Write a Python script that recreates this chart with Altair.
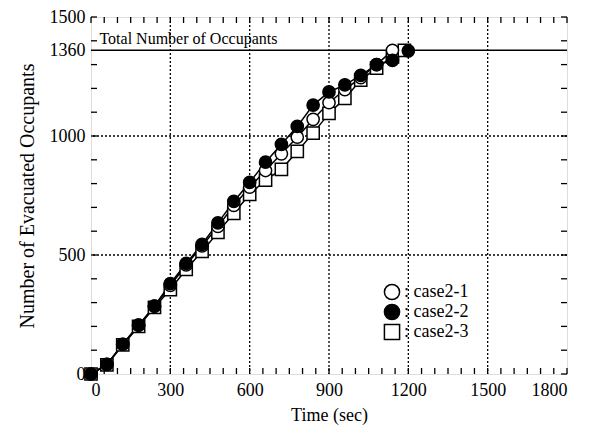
import altair as alt
import pandas as pd

# ---- data ----
series_names = ["case2-1", "case2-2", "case2-3"]

t_case1 = [0, 60, 120, 180, 240, 300, 360, 420, 480, 540, 600, 660, 720, 780, 840, 900, 960, 1020, 1080, 1140]
v_case1 = [0, 40, 125, 205, 285, 372, 458, 538, 620, 708, 785, 855, 925, 995, 1070, 1140, 1195, 1245, 1300, 1360]

t_case2 = [0, 60, 120, 180, 240, 300, 360, 420, 480, 540, 600, 660, 720, 780, 840, 900, 960, 1020, 1080, 1140, 1200]
v_case2 = [0, 40, 125, 205, 285, 380, 465, 545, 635, 725, 805, 890, 965, 1040, 1130, 1185, 1215, 1255, 1300, 1318, 1358]

t_case3 = [0, 60, 120, 180, 240, 300, 360, 420, 480, 540, 600, 660, 720, 780, 840, 900, 960, 1020, 1080, 1140, 1185]
v_case3 = [0, 38, 122, 200, 280, 355, 440, 515, 595, 675, 755, 815, 860, 935, 1012, 1095, 1158, 1235, 1285, 1332, 1360]

x_ticks = [0, 300, 600, 900, 1200, 1500, 1800]
y_ticks = [0, 500, 1000, 1360, 1500]
x_grid = [300, 600, 900, 1200, 1500]
y_grid = [500, 1000]
x_minor = list(range(0, 1801, 50))
y_minor = list(range(0, 1501, 100))
total_value = [1360]
total_label = ["Total Number of Occupants"]
total_label_t = [32]

FONT = "Liberation Serif"

rows = []
for name, ts, vs in [("case2-3", t_case3, v_case3), ("case2-1", t_case1, v_case1), ("case2-2", t_case2, v_case2)]:
    for t, v in zip(ts, vs):
        rows.append({"series": name, "t": t, "v": v})
df = pd.DataFrame(rows)

xs = alt.Scale(domain=[0, 1800], nice=False, zero=False)
ys = alt.Scale(domain=[0, 1500], nice=False, zero=False)

W, H = 476, 357

base_x_axis = alt.Axis(values=x_ticks, format="d", grid=False, domain=False, ticks=False,
                       labelFont=FONT, labelFontSize=18, labelPadding=7, labelColor="black",
                       title="Time (sec)", titleFont=FONT, titleFontSize=18, titleFontWeight="normal",
                       titlePadding=7, titleColor="black")
base_y_axis = alt.Axis(values=y_ticks, format="d", grid=False, domain=False, ticks=False,
                       labelFont=FONT, labelFontSize=18, labelPadding=6, labelColor="black",
                       title="Number of Evacuated Occupants", titleFont=FONT, titleFontSize=20,
                       titleFontWeight="normal", titlePadding=12, titleColor="black")

grid_v = alt.Chart(pd.DataFrame({"t": x_grid})).mark_rule(
    color="black", strokeWidth=1.3, strokeDash=[2, 2]
).encode(x=alt.X("t:Q", scale=xs, axis=base_x_axis))

grid_h = alt.Chart(pd.DataFrame({"v": y_grid})).mark_rule(
    color="black", strokeWidth=1.3, strokeDash=[2, 2]
).encode(y=alt.Y("v:Q", scale=ys, axis=base_y_axis))

tick_df_x = pd.DataFrame({"t": x_minor})
tick_df_y = pd.DataFrame({"v": y_minor})
ticks_bottom = alt.Chart(tick_df_x).mark_rule(color="black", strokeWidth=1.3).encode(
    x=alt.X("t:Q", scale=xs), y=alt.value(H), y2=alt.value(H - 6))
ticks_top = alt.Chart(tick_df_x).mark_rule(color="black", strokeWidth=1.3).encode(
    x=alt.X("t:Q", scale=xs), y=alt.value(0), y2=alt.value(6))
ticks_left = alt.Chart(tick_df_y).mark_rule(color="black", strokeWidth=1.3).encode(
    y=alt.Y("v:Q", scale=ys), x=alt.value(0), x2=alt.value(6))
ticks_right = alt.Chart(tick_df_y).mark_rule(color="black", strokeWidth=1.3).encode(
    y=alt.Y("v:Q", scale=ys), x=alt.value(W), x2=alt.value(W - 6))

total_rule = alt.Chart(pd.DataFrame({"v": total_value})).mark_rule(
    color="black", strokeWidth=1.6).encode(y=alt.Y("v:Q", scale=ys))

total_text = alt.Chart(pd.DataFrame({"t": total_label_t, "v": total_value, "label": total_label})).mark_text(
    font=FONT, fontSize=16, align="left", baseline="bottom", dy=-3, color="black"
).encode(x=alt.X("t:Q", scale=xs), y=alt.Y("v:Q", scale=ys), text="label:N")

lines = alt.Chart(df).mark_line(color="black", strokeWidth=1.5).encode(
    x=alt.X("t:Q", scale=xs), y=alt.Y("v:Q", scale=ys), detail="series:N", order="t:Q")

legend = alt.Legend(orient="none", legendX=292, legendY=266, title=None,
                    labelFont=FONT, labelFontSize=18, labelFontWeight="normal", labelColor="black",
                    labelExpr="':  ' + datum.label", symbolSize=230,
                    symbolStrokeWidth=1.5, rowPadding=-2, labelOffset=3)

points = alt.Chart(df).mark_point(filled=True, strokeWidth=1.5, size=150, opacity=1).encode(
    x=alt.X("t:Q", scale=xs), y=alt.Y("v:Q", scale=ys),
    shape=alt.Shape("series:N", scale=alt.Scale(domain=series_names, range=["circle", "circle", "square"]),
                    legend=legend),
    fill=alt.Fill("series:N", scale=alt.Scale(domain=series_names, range=["white", "black", "white"]),
                  legend=legend),
    stroke=alt.Stroke("series:N", scale=alt.Scale(domain=series_names, range=["black", "black", "black"]),
                      legend=legend),
)

chart = alt.layer(
    grid_v, grid_h, ticks_bottom, ticks_top, ticks_left, ticks_right,
    total_rule, total_text, lines, points
).properties(
    width=W, height=H,
    autosize=alt.AutoSizeParams(type="none"),
    padding={"left": 83, "top": 9, "right": 14, "bottom": 59},
).configure_view(
    stroke="black", strokeWidth=1.6
).configure(font=FONT, background="white")

chart.save("out.html", embed_options={"renderer": "svg", "actions": False})
